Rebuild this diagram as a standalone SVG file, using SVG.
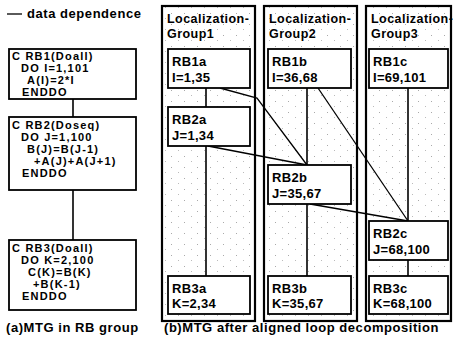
<svg xmlns="http://www.w3.org/2000/svg" width="453" height="347" viewBox="0 0 453 347">
<style>
text{font-family:"Liberation Sans",Arial,sans-serif;font-weight:bold;font-size:13px;fill:#000}
.code{font-size:11px;letter-spacing:1.2px}
.lbl{letter-spacing:0.3px}
.ttl{font-size:12.5px;letter-spacing:0.45px}
.cap{letter-spacing:0.55px}
.box{fill:#fff;stroke:#000;stroke-width:1.8}
.grp{fill:url(#dots);stroke:#000;stroke-width:2.2}
.flow{stroke:#000;stroke-width:1.6;fill:none}
.dep{stroke:#000;stroke-width:1.3;fill:none}
</style>
<defs>
<pattern id="dots" width="13" height="11" patternUnits="userSpaceOnUse">
<rect width="13" height="11" fill="#fff"/>
<rect x="2" y="2" width="1" height="1" fill="#aaa"/>
<rect x="9" y="7" width="1" height="1" fill="#bbb"/>
</pattern>
</defs>

<g id="legend">
<line x1="7" y1="14" x2="22" y2="14" stroke="#000" stroke-width="1.3"/>
<text x="27" y="18" class="cap">data dependence</text>
</g>

<g id="left-flow">
<line class="flow" x1="73" y1="99" x2="73" y2="117"/>
<line class="flow" x1="73" y1="190" x2="73" y2="240"/>
</g>

<g id="RB1">
<rect class="box" x="9" y="49" width="127" height="50"/>
<text class="code" x="12" y="60">C RB1(Doall)</text>
<text class="code" x="21" y="72">DO I=1,101</text>
<text class="code" x="27" y="84">A(I)=2*I</text>
<text class="code" x="22" y="96">ENDDO</text>
</g>
<g id="RB2">
<rect class="box" x="9" y="117" width="127" height="73"/>
<text class="code" x="12" y="129">C RB2(Doseq)</text>
<text class="code" x="21" y="141">DO J=1,100</text>
<text class="code" x="27" y="153">B(J)=B(J-1)</text>
<text class="code" x="34" y="165">+A(J)+A(J+1)</text>
<text class="code" x="22" y="177">ENDDO</text>
</g>
<g id="RB3">
<rect class="box" x="9" y="240" width="127" height="70"/>
<text class="code" x="12" y="252">C RB3(Doall)</text>
<text class="code" x="21" y="264">DO K=2,100</text>
<text class="code" x="28" y="276">C(K)=B(K)</text>
<text class="code" x="33" y="288">+B(K-1)</text>
<text class="code" x="22" y="300">ENDDO</text>
</g>
<text class="cap" x="6" y="332">(a)MTG in RB group</text>

<g id="group1">
<rect class="grp" x="162" y="6" width="93" height="315"/>
<text class="ttl" x="167" y="23">Localization-</text>
<text class="ttl" x="167" y="37.5">Group1</text>
</g>
<g id="group2">
<rect class="grp" x="264" y="6" width="93" height="315"/>
<text class="ttl" x="269" y="23">Localization-</text>
<text class="ttl" x="269" y="37.5">Group2</text>
</g>
<g id="group3">
<rect class="grp" x="366" y="6" width="85" height="315"/>
<text class="ttl" x="371" y="23">Localization-</text>
<text class="ttl" x="371" y="37.5">Group3</text>
</g>

<g id="connectors">
<line class="flow" x1="206" y1="88" x2="206" y2="107"/>
<line class="flow" x1="206" y1="146" x2="206" y2="276"/>
<line class="flow" x1="307" y1="88" x2="307" y2="165"/>
<line class="flow" x1="307" y1="204" x2="307" y2="276"/>
<line class="flow" x1="408" y1="88" x2="408" y2="221"/>
<line class="flow" x1="408" y1="260" x2="408" y2="276"/>
<polyline class="dep" points="220,88 257,98 307,165"/>
<line class="dep" x1="208" y1="146" x2="307" y2="165"/>
<line class="dep" x1="318" y1="88" x2="408" y2="221"/>
<line class="dep" x1="310" y1="204" x2="408" y2="221"/>
</g>

<g id="RB1a"><rect class="box" x="168" y="49" width="82" height="39"/><text class="lbl" x="172" y="66">RB1a</text><text class="lbl" x="172" y="82">I=1,35</text></g>
<g id="RB1b"><rect class="box" x="268" y="49" width="83" height="39"/><text class="lbl" x="272" y="66">RB1b</text><text class="lbl" x="272" y="82">I=36,68</text></g>
<g id="RB1c"><rect class="box" x="369" y="49" width="79" height="39"/><text class="lbl" x="373" y="66">RB1c</text><text class="lbl" x="373" y="82">I=69,101</text></g>
<g id="RB2a"><rect class="box" x="168" y="107" width="82" height="39"/><text class="lbl" x="172" y="124">RB2a</text><text class="lbl" x="172" y="140">J=1,34</text></g>
<g id="RB2b"><rect class="box" x="268" y="165" width="83" height="39"/><text class="lbl" x="272" y="182">RB2b</text><text class="lbl" x="272" y="198">J=35,67</text></g>
<g id="RB2c"><rect class="box" x="369" y="221" width="79" height="39"/><text class="lbl" x="373" y="238">RB2c</text><text class="lbl" x="373" y="254">J=68,100</text></g>
<g id="RB3a"><rect class="box" x="168" y="276" width="82" height="38"/><text class="lbl" x="172" y="293">RB3a</text><text class="lbl" x="172" y="308">K=2,34</text></g>
<g id="RB3b"><rect class="box" x="268" y="276" width="83" height="38"/><text class="lbl" x="272" y="293">RB3b</text><text class="lbl" x="272" y="308">K=35,67</text></g>
<g id="RB3c"><rect class="box" x="369" y="276" width="79" height="38"/><text class="lbl" x="373" y="293">RB3c</text><text class="lbl" x="373" y="308">K=68,100</text></g>

<text class="cap" x="164" y="332">(b)MTG after aligned loop decomposition</text>
</svg>
